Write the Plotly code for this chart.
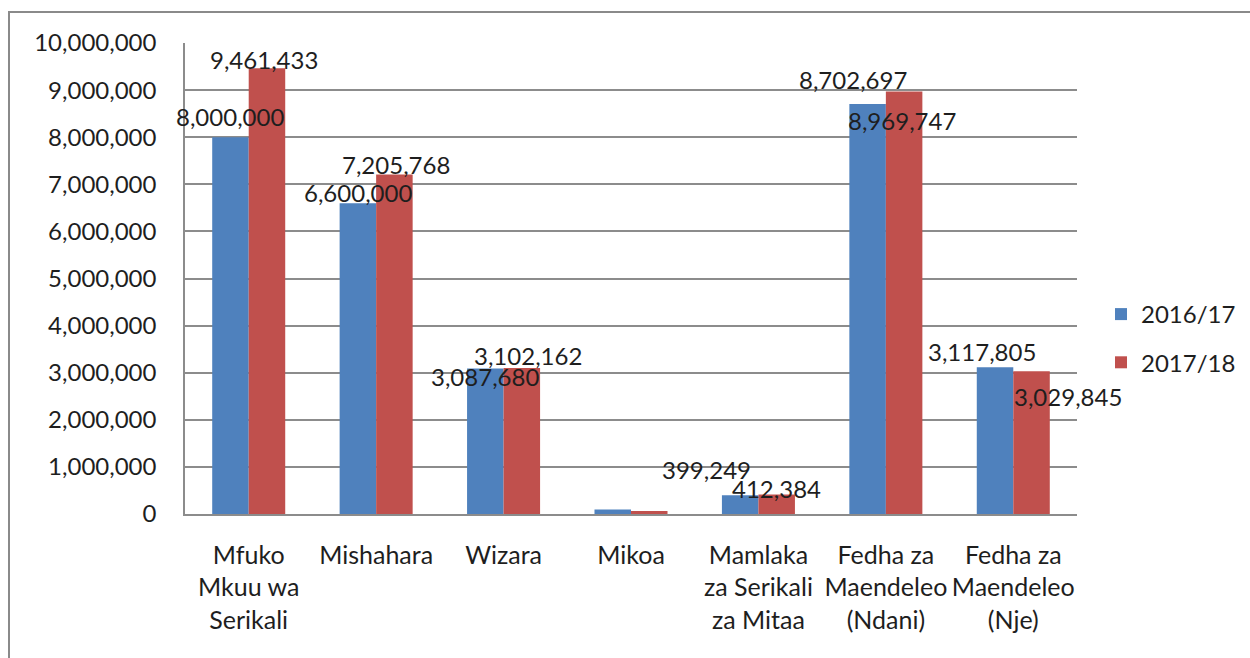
import plotly.graph_objects as go

categories = ["Mfuko<br>Mkuu wa<br>Serikali", "Mishahara", "Wizara", "Mikoa",
              "Mamlaka<br>za Serikali<br>za Mitaa", "Fedha za<br>Maendeleo<br>(Ndani)",
              "Fedha za<br>Maendeleo<br>(Nje)"]
series_names = ["2016/17", "2017/18"]
values_2016 = [8000000, 6600000, 3087680, 98000, 399249, 8702697, 3117805]
values_2017 = [9461433, 7205768, 3102162, 65000, 412384, 8969747, 3029845]
show_label_2016 = [True, True, True, False, True, True, True]
show_label_2017 = [True, True, True, False, True, True, True]
y_ticks = list(range(0, 10000001, 1000000))

# label placement tweaks (pixels): horizontal shift, vertical shift (up positive)
dx_2016 = [0, 0, 0, 0, -34, -15, -13]
dy_2016 = [20.5, 11, -8, 0, 26, 25, 15.5]
dx_2017 = [-3, 2, 6, 0, 0, -2, 36]
dy_2017 = [8.5, 10, 12, 0, 6, -29, -25]

BLUE = "#4F81BD"
RED = "#C0504D"
FONT = "Lato"
TXT = "#1e1e1e"
GRID = "#8c8c8c"

fig = go.Figure()
fig.add_trace(go.Bar(x=categories, y=values_2016, name=series_names[0],
                     marker=dict(color=BLUE, line=dict(width=0)), legendgroup="a"))
fig.add_trace(go.Bar(x=categories, y=values_2017, name=series_names[1],
                     marker=dict(color=RED, line=dict(width=0)), legendgroup="b"))

bar_off = 18.25
annotations = []
for vals, show, dxs, dys, sgn in [(values_2016, show_label_2016, dx_2016, dy_2016, -1),
                                  (values_2017, show_label_2017, dx_2017, dy_2017, 1)]:
    for c, v, s, dx, dy in zip(categories, vals, show, dxs, dys):
        if not s:
            continue
        annotations.append(dict(x=c, y=v, xref="x", yref="y", text=f"{v:,}",
                                showarrow=False, xanchor="center", yanchor="middle",
                                xshift=sgn * bar_off + dx, yshift=dy,
                                font=dict(family=FONT, size=24, color=TXT)))

L, R, T, B = 185, 1077, 43, 514
W, H = R - L, B - T
def px(x):
    return (x - L) / W
def py(y):
    return (B - y) / H

fig.update_layout(
    width=1250, height=658,
    margin=dict(l=L, r=1250 - R, t=T, b=658 - B, pad=0, autoexpand=False),
    paper_bgcolor="white", plot_bgcolor="white",
    barmode="group", bargap=0.427, bargroupgap=0,
    font=dict(family=FONT, size=24, color=TXT),
    showlegend=True,
    legend=dict(x=px(1101), y=py(292), xanchor="left", yanchor="top",
                font=dict(family=FONT, size=24, color=TXT),
                tracegroupgap=14, traceorder="grouped", bgcolor="rgba(0,0,0,0)"),
    xaxis=dict(range=[-0.5, len(categories) - 0.5], showgrid=False, showline=True,
               linecolor=GRID, linewidth=1.5,
               ticks="", ticklabelstandoff=18, tickangle=0, automargin=False,
               tickfont=dict(family=FONT, size=25, color=TXT)),
    yaxis=dict(range=[0, 10000000], tickvals=y_ticks, tickformat=",",
               showgrid=True, gridcolor=GRID, gridwidth=1.5,
               showline=True, linecolor=GRID, linewidth=1.5, automargin=False,
               ticks="", ticklabelstandoff=22, zeroline=False,
               tickfont=dict(family=FONT, size=24, color=TXT)),
    annotations=annotations,
    shapes=[dict(type="rect", xref="paper", yref="paper",
                 x0=px(9), x1=px(1270), y0=py(690), y1=py(12),
                 line=dict(color="#8a8a8a", width=2), fillcolor="rgba(0,0,0,0)",
                 layer="below")],
)

fig.write_html("out.html", config={"displayModeBar": False},
               post_script="document.body.style.margin='0';document.body.style.overflow='hidden';")
